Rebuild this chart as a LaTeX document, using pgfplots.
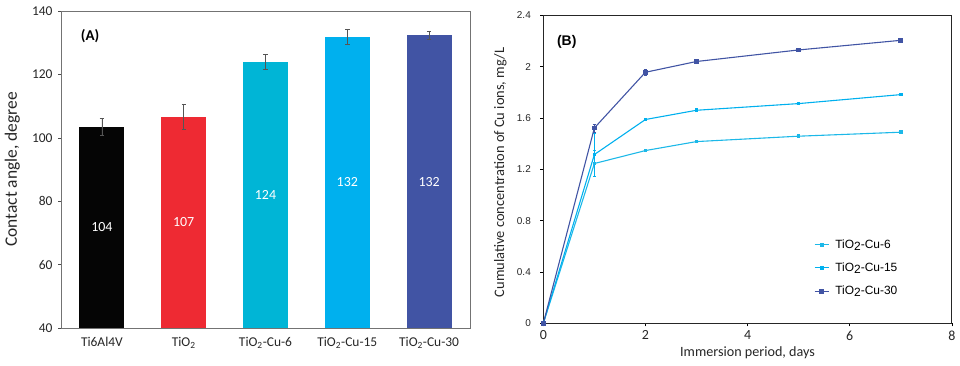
\documentclass[border=0pt]{standalone}
\usepackage{pgfplots}
\pgfplotsset{compat=1.18}
\usepackage{pgfplotstable}
\usepackage{fontspec}
\setmainfont{Carlito}
\newfontfamily\arial{Liberation Sans}
\definecolor{cblack}{HTML}{050505}
\definecolor{cred}{HTML}{EE2A33}
\definecolor{cteal}{HTML}{00B5D6}
\definecolor{csky}{HTML}{00B0EE}
\definecolor{cnavy}{HTML}{4154A4}
\definecolor{lcyan}{HTML}{1CB8E8}
\definecolor{errg}{HTML}{555555}

\pgfplotstableread{
x y e
0 103.4 2.7
}\barA
\pgfplotstableread{
x y e
1 106.7 3.9
}\barB
\pgfplotstableread{
x y e
2 123.9 2.4
}\barC
\pgfplotstableread{
x y e
3 131.9 2.3
}\barD
\pgfplotstableread{
x y e
4 132.3 1.3
}\barE
\pgfplotstableread{
x y lab
0 71.7 104
1 73.4 107
2 82.0 124
3 86.0 132
4 86.2 132
}\barlabels

\pgfplotstableread{
x y e
0 0 0
1 1.245 0.10
2 1.346 0
3 1.416 0
5 1.458 0
7 1.489 0
}\cuA
\pgfplotstableread{
x y e
0 0 0
1 1.315 0.17
2 1.588 0
3 1.660 0
5 1.712 0
7 1.782 0
}\cuB
\pgfplotstableread{
x y e
0 0 0
1 1.522 0.03
2 1.956 0.025
3 2.040 0
5 2.130 0
7 2.205 0
}\cuC

\begin{document}
\begin{tikzpicture}[x=1bp,y=1bp]
\path[use as bounding box] (0,0) rectangle (960,365);

% ---------------- Panel A ----------------
\begin{axis}[
  at={(61bp,37bp)}, anchor=south west,
  scale only axis, width=409bp, height=317bp,
  xmin=-0.5, xmax=4.5, ymin=40, ymax=140,
  xtick={0,1,2,3,4},
  xticklabels={Ti6Al4V, TiO\textsubscript{2}, TiO\textsubscript{2}-Cu-6, TiO\textsubscript{2}-Cu-15, TiO\textsubscript{2}-Cu-30},
  ytick={40,60,...,140},
  ytick pos=left,
  /pgf/number format/assume math mode=true,
  ticklabel style={font=\fontsize{13.5}{15}\selectfont, text=black!85},
  yticklabel style={xshift=-2bp},
  xticklabel style={yshift=-3bp},
  x tick style={draw=none},
  y tick style={black!70, line width=0.6pt},
  tick align=outside, major tick length=3bp,
  axis line style={black!55, line width=0.8pt},
  ylabel={Contact angle, degree},
  every axis y label/.style={at={(axis description cs:-0.119,0.5)}, rotate=90, anchor=center,
     font=\fontsize{17.5}{19}\selectfont, text=black!85},
  clip=true,
]
\addplot[ybar, bar width=0.55, bar shift=0pt, fill=cblack, draw=none,
  error bars/.cd, y dir=both, y explicit, error bar style={errg, line width=0.8pt}, error mark options={rotate=90, mark size=2.2bp, errg, line width=0.8pt}]
  table[x=x, y=y, y error=e] {\barA};
\addplot[ybar, bar width=0.55, bar shift=0pt, fill=cred, draw=none,
  error bars/.cd, y dir=both, y explicit, error bar style={errg, line width=0.8pt}, error mark options={rotate=90, mark size=2.2bp, errg, line width=0.8pt}]
  table[x=x, y=y, y error=e] {\barB};
\addplot[ybar, bar width=0.55, bar shift=0pt, fill=cteal, draw=none,
  error bars/.cd, y dir=both, y explicit, error bar style={errg, line width=0.8pt}, error mark options={rotate=90, mark size=2.2bp, errg, line width=0.8pt}]
  table[x=x, y=y, y error=e] {\barC};
\addplot[ybar, bar width=0.55, bar shift=0pt, fill=csky, draw=none,
  error bars/.cd, y dir=both, y explicit, error bar style={errg, line width=0.8pt}, error mark options={rotate=90, mark size=2.2bp, errg, line width=0.8pt}]
  table[x=x, y=y, y error=e] {\barD};
\addplot[ybar, bar width=0.55, bar shift=0pt, fill=cnavy, draw=none,
  error bars/.cd, y dir=both, y explicit, error bar style={errg, line width=0.8pt}, error mark options={rotate=90, mark size=2.2bp, errg, line width=0.8pt}]
  table[x=x, y=y, y error=e] {\barE};
\addplot[draw=none, mark=none, nodes near coords, point meta=explicit symbolic,
  nodes near coords align={center},
  every node near coord/.style={text=white, font=\fontsize{14}{16}\selectfont}]
  table[x=x, y=y, meta=lab] {\barlabels};
\node[anchor=west, font=\bfseries\fontsize{15}{17}\selectfont] at (axis description cs:0.04,0.92) {(A)};
\end{axis}

% ---------------- Panel B ----------------
\begin{axis}[
  at={(543.3bp,41.7bp)}, anchor=south west,
  scale only axis, width=408.5bp, height=308bp,
  xmin=0, xmax=8, ymin=0, ymax=2.4,
  xtick={0,2,4,6,8},
  ytick={0,0.4,0.8,1.2,1.6,2,2.4},
  yticklabels={0,0.4,0.8,1.2,1.6,2,2.4},
  xtick pos=bottom, ytick pos=left,
  /pgf/number format/assume math mode=true,
  xticklabel style={font=\fontsize{14}{16}\selectfont, text=black!85, yshift=-1bp},
  yticklabel style={font=\arial\fontsize{10}{12}\selectfont, text=black!85, xshift=-6bp},
  tick align=outside, major tick length=3bp,
  tick style={black, line width=0.6pt},
  axis line style={black!85, line width=0.8pt},
  xlabel={Immersion period, days},
  ylabel={Cumulative concentration of Cu ions, mg/L},
  every axis x label/.style={at={(axis description cs:0.5,-0.095)}, anchor=center,
     font=\fontsize{14.2}{16}\selectfont, text=black!85},
  every axis y label/.style={at={(axis description cs:-0.105,0.49)}, rotate=90, anchor=center,
     font=\fontsize{14.5}{16}\selectfont, text=black!85},
  legend style={at={(axis description cs:0.655,0.285)}, anchor=north west, draw=none, fill=none,
    font=\arial\fontsize{12}{13}\selectfont, row sep=9bp,
    legend cell align=left, nodes={inner xsep=6bp}},
  legend image code/.code={
    \draw[mark repeat=2,mark phase=2,#1] plot coordinates {(0cm,0cm) (0.25cm,0cm) (0.5cm,0cm)};},
  clip=false,
]
\addplot[lcyan, line width=1.1pt, mark=square*, mark size=1.3bp, mark options={solid},
  error bars/.cd, y dir=both, y explicit, error bar style={lcyan, line width=0.6pt}, error mark options={rotate=90, mark size=1.5bp, lcyan}]
  table[x=x, y=y, y error=e] {\cuA};
\addlegendentry{TiO\raisebox{-0.35ex}{2}-Cu-6}
\addplot[csky, line width=1.1pt, mark=square*, mark size=1.3bp, mark options={solid},
  error bars/.cd, y dir=both, y explicit, error bar style={csky, line width=0.6pt}, error mark options={rotate=90, mark size=1.5bp, csky}]
  table[x=x, y=y, y error=e] {\cuB};
\addlegendentry{TiO\raisebox{-0.35ex}{2}-Cu-15}
\addplot[cnavy, line width=1.1pt, mark=square*, mark size=1.9bp, mark options={solid},
  error bars/.cd, y dir=both, y explicit, error bar style={cnavy, line width=0.7pt}, error mark options={rotate=90, mark size=1.8bp, cnavy}]
  table[x=x, y=y, y error=e] {\cuC};
\addlegendentry{TiO\raisebox{-0.35ex}{2}-Cu-30}
\node[anchor=west, font=\arial\bfseries\fontsize{14}{16}\selectfont] at (axis description cs:0.025,0.915) {(B)};
\end{axis}
\end{tikzpicture}
\end{document}
